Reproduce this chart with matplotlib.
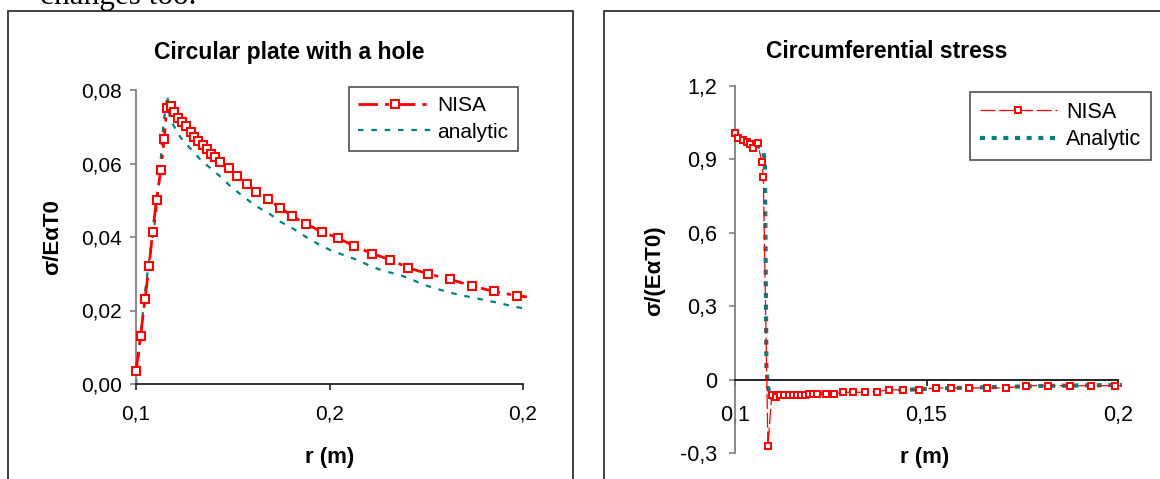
import matplotlib
matplotlib.use("Agg")
from matplotlib import pyplot as plt
from matplotlib.patches import Rectangle

plt.rcParams['font.family'] = ['Liberation Sans', 'DejaVu Sans']

# left chart: circular plate with a hole
nisa1_r = [0.1000, 0.1012, 0.1023, 0.1034, 0.1043, 0.1053, 0.1064, 0.1073, 0.1079, 0.1090,
           0.1099, 0.1109, 0.1118, 0.1129, 0.1141, 0.1151, 0.1161, 0.1172, 0.1183, 0.1194,
           0.1204, 0.1217, 0.1240, 0.1260, 0.1286, 0.1310, 0.1340, 0.1373, 0.1404, 0.1440,
           0.1481, 0.1522, 0.1563, 0.1610, 0.1657, 0.1704, 0.1754, 0.1811, 0.1867, 0.1924,
           0.1985, 0.2010]
nisa1_s = [0.0035, 0.0131, 0.0230, 0.0322, 0.0414, 0.0501, 0.0582, 0.0668, 0.0750, 0.0756,
           0.0739, 0.0723, 0.0713, 0.0702, 0.0685, 0.0673, 0.0662, 0.0649, 0.0639, 0.0627,
           0.0617, 0.0603, 0.0587, 0.0565, 0.0544, 0.0523, 0.0503, 0.0479, 0.0457, 0.0435,
           0.0414, 0.0397, 0.0376, 0.0355, 0.0338, 0.0316, 0.0300, 0.0285, 0.0267, 0.0252,
           0.0240, 0.0237]
an1_r = [0.1000, 0.1009, 0.1023, 0.1036, 0.1051, 0.1060, 0.1071, 0.1081, 0.1088, 0.1115,
         0.1142, 0.1168, 0.1196, 0.1224, 0.1243, 0.1269, 0.1295, 0.1320, 0.1344, 0.1374,
         0.1404, 0.1441, 0.1472, 0.1501, 0.1536, 0.1574, 0.1605, 0.1639, 0.1677, 0.1708,
         0.1738, 0.1773, 0.1804, 0.1837, 0.1872, 0.1902, 0.1936, 0.1971, 0.2010]
an1_s = [0.0000, 0.0101, 0.0247, 0.0356, 0.0455, 0.0555, 0.0709, 0.0786, 0.0720, 0.0671,
         0.0639, 0.0609, 0.0584, 0.0559, 0.0539, 0.0517, 0.0496, 0.0478, 0.0464, 0.0441,
         0.0424, 0.0399, 0.0380, 0.0365, 0.0351, 0.0337, 0.0321, 0.0308, 0.0298, 0.0287,
         0.0272, 0.0260, 0.0251, 0.0242, 0.0235, 0.0228, 0.0221, 0.0212, 0.0204]
xticks1 = [0.1, 0.15, 0.2]
xlabels1 = ["0,1", "0,2", "0,2"]
yticks1 = [0.0, 0.02, 0.04, 0.06, 0.08]
ylabels1 = ["0,00", "0,02", "0,04", "0,06", "0,08"]

# right chart: circumferential stress
nisa2_r = [0.1000, 0.1009, 0.1020, 0.1031, 0.1039, 0.1048, 0.1059, 0.1070, 0.1074, 0.1086,
           0.1096, 0.1106, 0.1117, 0.1129, 0.1140, 0.1151, 0.1162, 0.1172, 0.1183, 0.1192,
           0.1204, 0.1215, 0.1237, 0.1258, 0.1283, 0.1309, 0.1339, 0.1370, 0.1403, 0.1438,
           0.1481, 0.1524, 0.1565, 0.1611, 0.1659, 0.1707, 0.1759, 0.1816, 0.1874, 0.1930,
           0.1993, 0.2010]
nisa2_s = [1.007, 0.989, 0.979, 0.973, 0.964, 0.948, 0.966, 0.891, 0.827, -0.273,
           -0.063, -0.073, -0.064, -0.063, -0.063, -0.063, -0.063, -0.063, -0.063, -0.059,
           -0.059, -0.059, -0.059, -0.059, -0.052, -0.052, -0.052, -0.049, -0.042, -0.042,
           -0.042, -0.034, -0.034, -0.034, -0.034, -0.034, -0.025, -0.025, -0.025, -0.025,
           -0.025, -0.025]
an2_r = [0.1000, 0.1020, 0.1040, 0.1060, 0.1072, 0.1078, 0.1080, 0.1082, 0.1086, 0.1094,
         0.1120, 0.1200, 0.1300, 0.1400, 0.1500, 0.1600, 0.1700, 0.1800, 0.1900, 0.2010]
an2_s = [1.000, 0.985, 0.970, 0.955, 0.940, 0.900, 0.500, 0.050, -0.030, -0.075,
         -0.065, -0.058, -0.050, -0.045, -0.038, -0.033, -0.030, -0.026, -0.024, -0.022]
xticks2 = [0.1, 0.15, 0.2]
xlabels2 = ["0,1", "0,15", "0,2"]
yticks2 = [-0.3, 0.0, 0.3, 0.6, 0.9, 1.2]
ylabels2 = ["-0,3", "0", "0,3", "0,6", "0,9", "1,2"]

W, H = 1160, 479
fig = plt.figure(figsize=(W / 100, H / 100), dpi=100)

def fx(px):
    return px / W

def fy(py):
    return 1 - py / H

# page text cut at the top and the two chart frames
fig.text(fx(40), fy(4), "changes too.", family="Liberation Serif", fontsize=22.5,
         va="baseline", ha="left")
fig.patches.append(Rectangle((fx(8), fy(490)), fx(573 - 8), fy(11) - fy(490),
                             transform=fig.transFigure, fill=False, ec="#333333", lw=1.3))
fig.patches.append(Rectangle((fx(604), fy(490)), fx(700), fy(11) - fy(490),
                             transform=fig.transFigure, fill=False, ec="#333333", lw=1.3))

red = "#ff0000"
teal = "#008080"

# ---- left
ax1 = fig.add_axes([fx(136), fy(384), fx(523) - fx(136), fy(90) - fy(384)])
ax1.plot(an1_r, an1_s, color=teal, lw=1.6, linestyle=(0, (2.5, 3.5)), clip_on=False,
         label="analytic", zorder=2)
ax1.plot(nisa1_r, nisa1_s, color=red, lw=2.0, linestyle=(0, (7, 2.5, 1.5, 2.5)),
         marker="s", ms=5.5, mfc="white", mec=red, mew=1.5,
         markevery=list(range(len(nisa1_r) - 1)), clip_on=False, label="NISA", zorder=3)
ax1.set_xlim(0.1, 0.2)
ax1.set_ylim(0, 0.08)
ax1.set_xticks(xticks1)
ax1.set_xticklabels(xlabels1)
ax1.set_yticks(yticks1)
ax1.set_yticklabels(ylabels1)
for s in ("top", "right"):
    ax1.spines[s].set_visible(False)
ax1.spines["left"].set_color("#808080")
ax1.spines["left"].set_linewidth(1.3)
ax1.spines["bottom"].set_color("#222222")
ax1.spines["bottom"].set_linewidth(1.3)
ax1.tick_params(axis="y", direction="out", length=4, width=1.2, color="#808080",
                pad=6, labelsize=15)
ax1.tick_params(axis="x", direction="out", length=4, width=1.2, color="#222222",
                pad=11, labelsize=15)
fig.text(fx(289), fy(52), "Circular plate with a hole", fontsize=16.5, fontweight="bold",
         ha="center", va="center")
fig.text(fx(330), fy(458), "r (m)", fontsize=16, fontweight="bold", ha="center", va="center")
fig.text(fx(53), fy(237), "σ/EαT0", fontsize=16, fontweight="bold", ha="center",
         va="center", rotation=90)
h1, l1 = ax1.get_legend_handles_labels()
leg1 = ax1.legend(h1[::-1], l1[::-1], loc="upper left", bbox_to_anchor=(fx(349), fy(87)),
                  bbox_transform=fig.transFigure, fontsize=15, frameon=True,
                  fancybox=False, edgecolor="#222222", handlelength=3.5,
                  borderpad=0.45, labelspacing=0.35, handletextpad=0.3, borderaxespad=0)
leg1.get_frame().set_linewidth(1.2)

# ---- right
ax2 = fig.add_axes([fx(735), fy(453), fx(1118) - fx(735), fy(86) - fy(453)])
ax2.plot(an2_r, an2_s, color=teal, lw=3.0, linestyle=(0, (1.2, 1.6)), clip_on=False,
         label="Analytic", zorder=2)
ax2.plot(nisa2_r, nisa2_s, color=red, lw=0.9, linestyle=(0, (12, 3)),
         marker="s", ms=5, mfc="white", mec=red, mew=1.4,
         markevery=list(range(len(nisa2_r) - 1)), clip_on=False, label="NISA", zorder=3)
ax2.set_xlim(0.1, 0.2)
ax2.set_ylim(-0.3, 1.2)
ax2.set_xticks(xticks2)
ax2.set_xticklabels(xlabels2)
ax2.set_yticks(yticks2)
ax2.set_yticklabels(ylabels2)
for s in ("top", "right"):
    ax2.spines[s].set_visible(False)
ax2.spines["bottom"].set_position(("data", 0))
ax2.spines["bottom"].set_color("#111111")
ax2.spines["bottom"].set_linewidth(1.3)
ax2.spines["left"].set_color("#808080")
ax2.spines["left"].set_linewidth(1.3)
ax2.tick_params(axis="y", direction="out", length=4, width=1.2, color="#808080",
                pad=9, labelsize=15.5)
ax2.tick_params(axis="x", direction="out", length=4, width=1.2, color="#111111",
                pad=14, labelsize=15.5)
fig.text(fx(887), fy(52), "Circumferential stress", fontsize=16.5, fontweight="bold",
         ha="center", va="center")
fig.text(fx(925), fy(458), "r (m)", fontsize=16, fontweight="bold", ha="center", va="center")
fig.text(fx(655), fy(271), "σ/(EαT0)", fontsize=16, fontweight="bold", ha="center",
         va="center", rotation=90)
h2, l2 = ax2.get_legend_handles_labels()
leg2 = ax2.legend(h2[::-1], l2[::-1], loc="upper left", bbox_to_anchor=(fx(970), fy(92)),
                  bbox_transform=fig.transFigure, fontsize=15.5, frameon=True,
                  fancybox=False, edgecolor="#222222", handlelength=3.6,
                  borderpad=0.45, labelspacing=0.3, handletextpad=0.4, borderaxespad=0)
leg2.get_frame().set_linewidth(1.2)

fig.savefig("out.png", dpi=100)
